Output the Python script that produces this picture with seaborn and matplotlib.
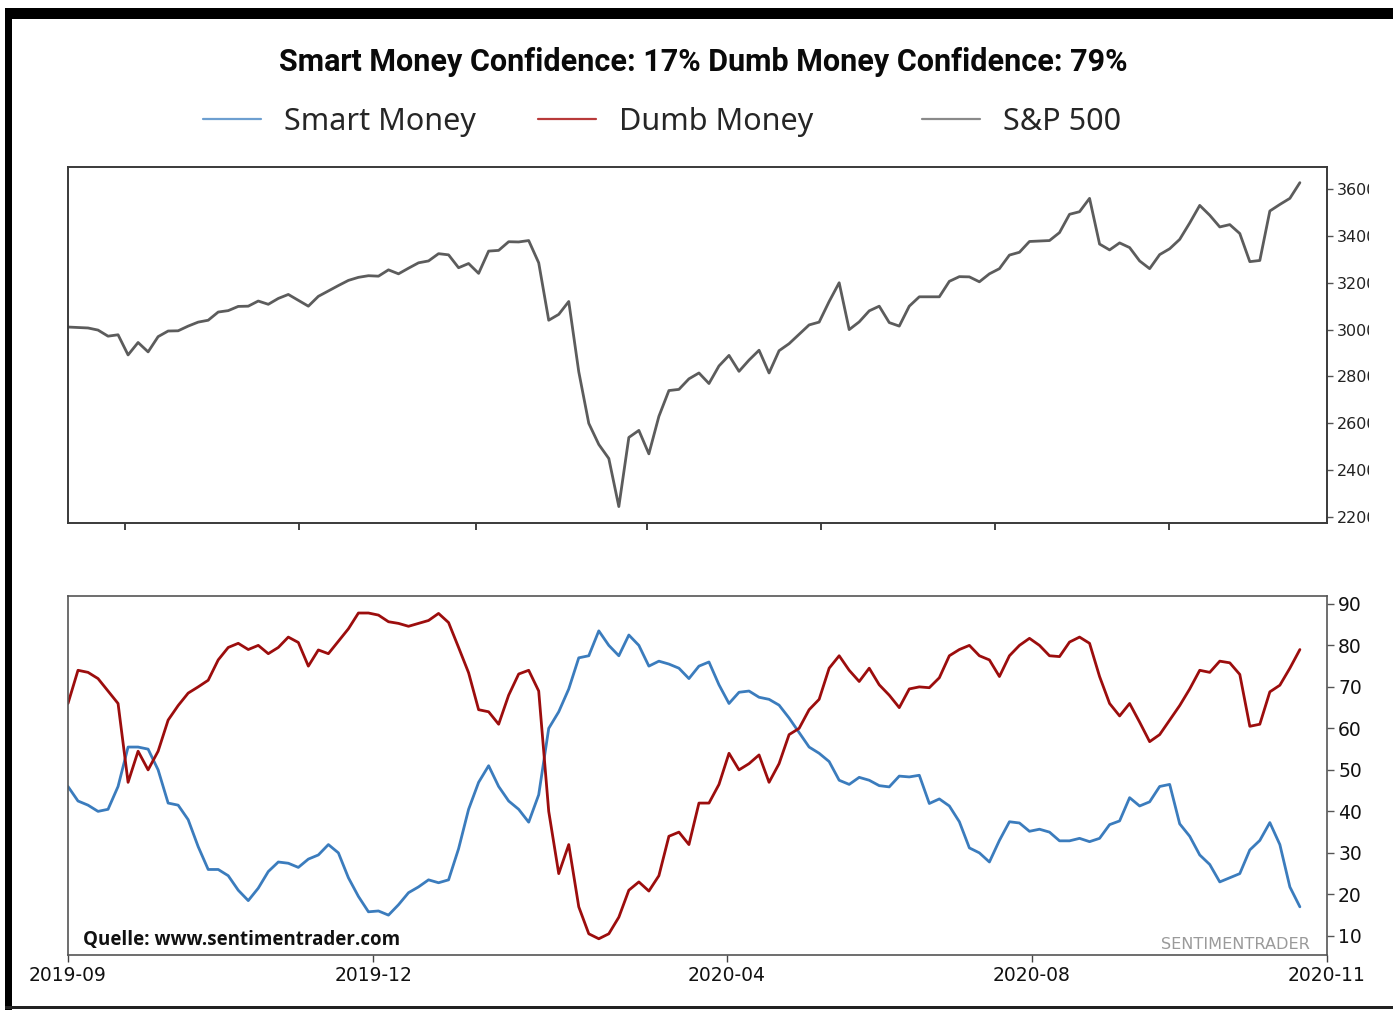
import pandas as pd
import matplotlib.pyplot as plt
import matplotlib.dates as mdates
from matplotlib.lines import Line2D
from matplotlib.patches import Rectangle
import seaborn as sns

sns.set_style("ticks")
plt.rcParams["font.family"] = ["DejaVu Sans"]

dates = pd.date_range("2019-09-11", "2020-11-16", periods=124)

sp500 = [3011, 3009, 3007, 2998, 2972, 2978, 2892, 2945, 2905, 2970,
         2994, 2995, 3015, 3032, 3040, 3075, 3081, 3099, 3100, 3122,
         3108, 3133, 3150, 3125, 3100, 3142, 3165, 3188, 3210, 3223,
         3230, 3228, 3255, 3238, 3262, 3285, 3293, 3324, 3319, 3264,
         3282, 3240, 3335, 3338, 3375, 3374, 3380, 3285, 3040, 3065,
         3120, 2820, 2600, 2510, 2450, 2245, 2540, 2570, 2470, 2630,
         2740, 2745, 2790, 2815, 2770, 2845, 2890, 2822, 2870, 2912,
         2815, 2910, 2940, 2980, 3020, 3032, 3120, 3200, 3000, 3033,
         3080, 3100, 3030, 3015, 3100, 3140, 3140, 3140, 3206, 3226,
         3225, 3204, 3238, 3260, 3318, 3330, 3376, 3378, 3380, 3414,
         3492, 3503, 3560, 3365, 3340, 3370, 3350, 3293, 3260, 3320,
         3345, 3385, 3455, 3530, 3488, 3438, 3448, 3410, 3290, 3295,
         3506, 3534, 3560, 3627]

smart_money = [46, 42.5, 41.5, 40, 40.5, 46, 55.5, 55.5, 55, 50,
               42, 41.5, 38, 31.5, 26, 26, 24.5, 21, 18.5, 21.5,
               25.5, 27.8, 27.5, 26.5, 28.5, 29.5, 32, 30, 24, 19.5,
               15.8, 16, 15, 17.5, 20.4, 21.8, 23.5, 22.8, 23.5, 31,
               40.5, 47, 51, 46, 42.5, 40.5, 37.4, 44, 60, 64,
               69.5, 77, 77.5, 83.5, 80, 77.5, 82.5, 80, 75, 76.2,
               75.5, 74.5, 72, 75, 76, 70.5, 66, 68.7, 69, 67.5,
               67, 65.6, 62.5, 59, 55.5, 54, 52, 47.5, 46.5, 48.2,
               47.5, 46.2, 45.9, 48.5, 48.3, 48.7, 41.9, 43, 41.3, 37.5,
               31.2, 30, 27.8, 33, 37.5, 37.2, 35.2, 35.7, 35, 32.9,
               32.9, 33.5, 32.7, 33.5, 36.8, 37.7, 43.3, 41.3, 42.3, 46,
               46.5, 37, 34, 29.5, 27.2, 23, 24, 25, 30.7, 33,
               37.3, 32, 21.8, 17]

dumb_money = [66, 74, 73.5, 72, 69, 66, 47, 54.5, 50, 54.5,
              62, 65.5, 68.5, 70, 71.6, 76.5, 79.5, 80.5, 79, 80,
              78, 79.5, 82, 80.7, 75, 78.9, 78, 81, 84, 87.8,
              87.8, 87.3, 85.7, 85.3, 84.6, 85.3, 86, 87.7, 85.5, 79.5,
              73.4, 64.5, 64, 61, 68, 73.1, 74, 69, 40, 25,
              32, 17, 10.5, 9.3, 10.5, 14.5, 21, 23, 20.8, 24.5,
              34, 35, 32, 42, 42, 46.5, 54, 50, 51.5, 53.6,
              47, 51.5, 58.5, 60, 64.5, 67, 74.5, 77.5, 74, 71.3,
              74.5, 70.5, 68, 65, 69.5, 70, 69.8, 72.2, 77.5, 79,
              80, 77.5, 76.5, 72.5, 77.5, 80, 81.7, 80, 77.5, 77.3,
              80.8, 82, 80.5, 72.5, 66, 63, 66, 61.5, 56.8, 58.5,
              62, 65.5, 69.5, 74, 73.5, 76.2, 75.8, 73, 60.5, 61,
              68.8, 70.4, 74.5, 79]

top_tick_dates = ["2019-10-01", "2019-12-01", "2020-02-01", "2020-04-01",
                  "2020-06-01", "2020-08-01", "2020-10-01"]
bottom_tick_dates = ["2019-09-11 00:00", "2019-12-27 00:00", "2020-04-29 00:00",
                     "2020-08-14 00:00", "2020-11-25 12:00"]
bottom_tick_labels = ["2019-09", "2019-12", "2020-04", "2020-08", "2020-11"]

df = pd.DataFrame({"date": dates, "sp500": sp500,
                   "smart": smart_money, "dumb": dumb_money})

blue = "#3b7cbd"
red = "#9c0d0d"
grey = "#5c5c5c"

fig = plt.figure(figsize=(13.93, 10.10), dpi=100)
ax1 = fig.add_axes([0.0488, 0.4822, 0.9038, 0.3525])
ax2 = fig.add_axes([0.0488, 0.0545, 0.9038, 0.3554])

sns.lineplot(data=df, x="date", y="sp500", ax=ax1, color=grey, linewidth=2)
sns.lineplot(data=df, x="date", y="smart", ax=ax2, color=blue, linewidth=2)
sns.lineplot(data=df, x="date", y="dumb", ax=ax2, color=red, linewidth=2)

xlim = (pd.Timestamp("2019-09-11"), pd.Timestamp("2020-11-25 12:00"))

# top panel
ax1.set_xlim(xlim)
ax1.set_ylim(2175, 3694)
ax1.set_yticks(range(2200, 3601, 200))
ax1.yaxis.tick_right()
ax1.set_xticks(mdates.date2num(pd.to_datetime(top_tick_dates)))
ax1.tick_params(axis="x", labelbottom=False, length=5, width=1.3, color="#333333")
ax1.tick_params(axis="y", length=4, width=1, labelsize=11.5, pad=3, color="#555555",
                labelcolor="#222222")
ax1.set_xlabel("")
ax1.set_ylabel("")
for s in ax1.spines.values():
    s.set_color("#3a3a3a")
    s.set_linewidth(1.4)

# bottom panel
ax2.set_xlim(xlim)
ax2.set_ylim(5.4, 91.9)
ax2.set_yticks(range(10, 91, 10))
ax2.yaxis.tick_right()
ax2.set_xticks(mdates.date2num(pd.to_datetime(bottom_tick_dates)))
ax2.set_xticklabels(bottom_tick_labels)
ax2.tick_params(axis="x", length=5, width=1, labelsize=13.5, pad=3, color="#444444",
                labelcolor="#111111")
ax2.tick_params(axis="y", length=5, width=1, labelsize=13.5, pad=3, color="#555555",
                labelcolor="#111111")
ax2.set_xlabel("")
ax2.set_ylabel("")
for s in ax2.spines.values():
    s.set_color("#555555")
    s.set_linewidth(1.2)

ax2.text(0.012, 0.042, "Quelle: www.sentimentrader.com", transform=ax2.transAxes,
         fontsize=13.5, fontweight="bold", family="Open Sans", va="center", ha="left",
         color="#111111")
ax2.text(0.9865, 0.028, "SENTIMENTRADER", transform=ax2.transAxes,
         fontsize=11.6, family="DejaVu Sans", va="center", ha="right", color="#9a9a9a")

# title and legend
fig.text(0.505, 0.9386, "Smart Money Confidence: 17% Dumb Money Confidence: 79%",
         ha="center", va="center", fontsize=22, fontweight="bold", family="Roboto",
         color="#0a0a0a")

legend_items = [("Smart Money", "#6d9fd0", 203), ("Dumb Money", "#b83a3a", 538),
                ("S&P 500", "#8a8a8a", 922)]
for label, col, px in legend_items:
    h = Line2D([], [], color=col, linewidth=1.6)
    fig.legend(handles=[h], labels=[label], loc="center left",
               bbox_to_anchor=(px / 1393, 1 - 122 / 1010), frameon=False,
               handlelength=1.9, handletextpad=0.75,
               borderpad=0, borderaxespad=0, prop={"family": "Noto Sans", "size": 22})

# mask that cuts off the top panel's tick labels like the screenshot
fig.add_artist(Rectangle((1369 / 1393, 0.465), 1, 0.372, transform=fig.transFigure,
                         facecolor="white", edgecolor="none", zorder=10))

# screenshot border
fig.add_artist(Rectangle((5 / 1393, 1 - 19 / 1010), 1, 11 / 1010, transform=fig.transFigure,
                         facecolor="black", edgecolor="none", zorder=11))
fig.add_artist(Rectangle((5 / 1393, 0), 7 / 1393, 1 - 8 / 1010, transform=fig.transFigure,
                         facecolor="black", edgecolor="none", zorder=11))
fig.add_artist(Rectangle((5 / 1393, 1 / 1010), 1, 3 / 1010, transform=fig.transFigure,
                         facecolor="#222222", edgecolor="none", zorder=11))

fig.savefig("out.png", dpi=100)
